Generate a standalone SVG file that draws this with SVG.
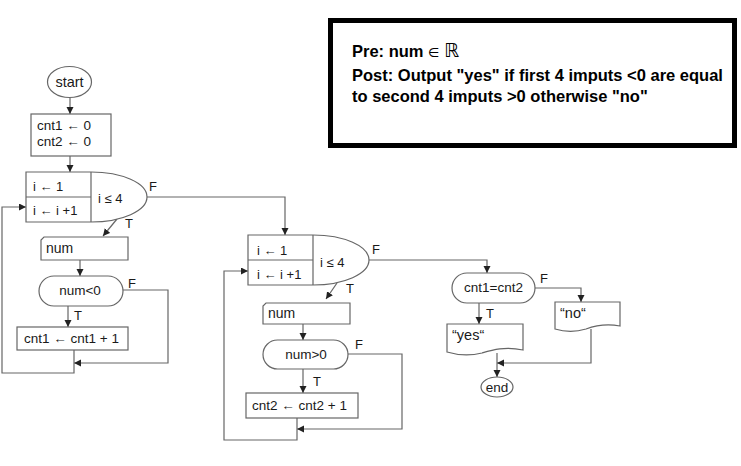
<svg xmlns="http://www.w3.org/2000/svg" width="741" height="466" viewBox="0 0 741 466">
<defs>
<marker id="ah" markerUnits="userSpaceOnUse" markerWidth="8" markerHeight="8" refX="7" refY="3.5" orient="auto">
<path d="M0,0 L7,3.5 L0,7 z" fill="#222"/>
</marker>
<style>
.s{fill:#fff;stroke:#666;stroke-width:1.2}
.c{fill:none;stroke:#666;stroke-width:1.2}
.a{marker-end:url(#ah)}
text{font-family:"Liberation Sans",Arial,sans-serif;font-size:13.5px;fill:#1a1a1a}
.m{text-anchor:middle}
.l{font-size:13px}
.b{font-weight:bold;font-size:16.5px;fill:#000;font-family:"Liberation Sans","DejaVu Sans",sans-serif}
</style>
</defs>
<rect width="741" height="466" fill="#fff"/>

<g id="connectors">
<path class="c a" d="M70,98 V114"/>
<path class="c a" d="M70,156 V172"/>
<path class="c a" d="M117,219 L103,236"/>
<path class="c a" d="M80,260 V276"/>
<path class="c a" d="M68,306 V327"/>
<path class="c a" d="M123,290 H168 V363 H74"/>
<path class="c a" d="M74,350 V373 H2 V207 H26"/>
<path class="c a" d="M147,197 H285 V235"/>
<path class="c a" d="M337,283 L326,299"/>
<path class="c a" d="M303,324 V340"/>
<path class="c a" d="M303,369 V393"/>
<path class="c a" d="M348,354 H402 V429 H297"/>
<path class="c a" d="M297,418 V440 H224 V271 H248"/>
<path class="c a" d="M369,260 H487 V273"/>
<path class="c a" d="M479,303 V324"/>
<path class="c a" d="M535,288 H581 V302"/>
<path class="c a" d="M497,353 V377"/>
<path class="c a" d="M591,329 V363 H497"/>
</g>

<g id="start">
<ellipse class="s" cx="69.5" cy="82" rx="22" ry="15.5"/>
<text class="m" x="69.5" y="87" style="font-size:14.5px">start</text>
</g>

<g id="init">
<rect class="s" x="31" y="114" width="80" height="42"/>
<text x="37" y="130">cnt1 ← 0</text>
<text x="37" y="146">cnt2 ← 0</text>
</g>

<g id="loop1">
<path class="s" d="M26,172 H91 A56,25 0 0 1 91,222 H26 Z"/>
<path class="c" d="M91,172 V222 M26,197 H91"/>
<text class="l" x="33" y="191">i ← 1</text>
<text class="l" x="33" y="215">i ← i +1</text>
<text class="l" x="98" y="203">i ≤ 4</text>
<text class="l" x="149" y="191">F</text>
<text class="l" x="125" y="228">T</text>
</g>

<g id="input1">
<path class="s" d="M44,237 H128 V260 H41 V240 Z"/>
<text x="46" y="253" style="font-size:14px">num</text>
</g>

<g id="cond1">
<rect class="s" x="39" y="276" width="84" height="30" rx="15"/>
<text class="m" x="80" y="295">num&lt;0</text>
<text class="l" x="128" y="288">F</text>
<text class="l" x="74" y="320">T</text>
</g>

<g id="inc1">
<rect class="s" x="17" y="327" width="111" height="23"/>
<text x="24" y="343">cnt1 ← cnt1 + 1</text>
</g>

<g id="loop2">
<path class="s" d="M248,235 H313 A56,25 0 0 1 313,285 H248 Z"/>
<path class="c" d="M313,235 V285 M248,260 H313"/>
<text class="l" x="257" y="255">i ← 1</text>
<text class="l" x="257" y="279">i ← i +1</text>
<text class="l" x="320" y="267">i ≤ 4</text>
<text class="l" x="372" y="254">F</text>
<text class="l" x="346" y="293">T</text>
</g>

<g id="input2">
<path class="s" d="M266,303 H350 V324 H263 V306 Z"/>
<text x="268" y="318" style="font-size:14px">num</text>
</g>

<g id="cond2">
<rect class="s" x="263" y="340" width="85" height="29" rx="14.5"/>
<text class="m" x="306" y="359">num&gt;0</text>
<text class="l" x="355" y="349">F</text>
<text class="l" x="313" y="386">T</text>
</g>

<g id="inc2">
<rect class="s" x="246" y="393" width="112" height="25"/>
<text x="252" y="410">cnt2 ← cnt2 + 1</text>
</g>

<g id="cond3">
<rect class="s" x="452" y="273" width="83" height="30" rx="15"/>
<text class="m" x="493.5" y="292">cnt1=cnt2</text>
<text class="l" x="540" y="283">F</text>
<text class="l" x="486" y="318">T</text>
</g>

<g id="outYes">
<path class="s" d="M447,324 H523 V350 C505,346 492,350 482,353 C470,356 457,355 447,352 Z"/>
<text x="452" y="340" style="font-size:14.5px">“yes“</text>
</g>

<g id="outNo">
<path class="s" d="M555,302 H620 V326 C604,323 594,326 586,329 C576,332 565,332 555,329 Z"/>
<text x="560" y="318" style="font-size:14.5px">“no“</text>
</g>

<g id="end">
<ellipse class="s" cx="497" cy="387" rx="16" ry="10"/>
<text class="m" x="497" y="392">end</text>
</g>

<g id="spec">
<rect x="330.5" y="20.5" width="404" height="125" fill="#fff" stroke="#000" stroke-width="5"/>
<text class="b" x="352" y="57">Pre: num <tspan font-weight="normal" style="font-size:13px">∈</tspan> <tspan font-weight="normal" font-family="DejaVu Sans" style="font-size:19px">ℝ</tspan></text>
<text class="b" x="352" y="81">Post: Output "yes" if first 4 imputs &lt;0 are equal</text>
<text class="b" x="352" y="102">to second 4 imputs &gt;0 otherwise "no"</text>
</g>
</svg>
